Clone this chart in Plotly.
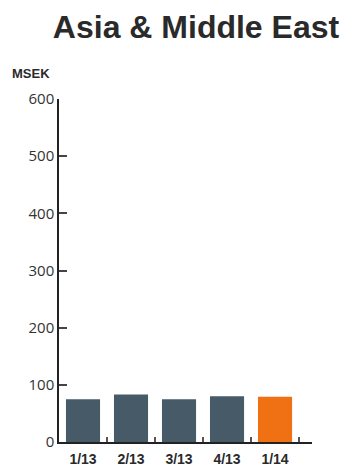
import plotly.graph_objects as go

categories = ["1/13", "2/13", "3/13", "4/13", "1/14"]
values = [75, 83, 75, 80, 79]
colors = ["#465a68", "#465a68", "#465a68", "#465a68", "#f07014"]
y_ticks = [0, 100, 200, 300, 400, 500, 600]

W, H = 345, 467
L, R, T, B = 59, 33, 99, 25
pw, ph = W - L - R, H - T - B

fig = go.Figure()
fig.add_trace(go.Bar(
    x=categories, y=values,
    marker=dict(color=colors, line=dict(width=0)),
    width=0.71,
    hoverinfo="skip",
))

fig.update_layout(
    width=W, height=H,
    margin=dict(l=L, r=R, t=T, b=B),
    paper_bgcolor="white", plot_bgcolor="white",
    showlegend=False,
    title=dict(text="<b>Asia & Middle East</b>", x=196/W, xanchor="center",
               y=1-27/H, yanchor="middle",
               font=dict(family="Liberation Sans, Arial", size=32, color="#2a2a2a")),
    annotations=[dict(text="<b>MSEK</b>", x=(10-L)/pw, y=(H-B-73)/ph, xref="paper", yref="paper",
                      xanchor="left", yanchor="middle", showarrow=False,
                      font=dict(family="Liberation Sans, Arial", size=13, color="#2a2a2a"))],
)
fig.update_yaxes(
    range=[0, 600], tickvals=y_ticks, showgrid=False, zeroline=False,
    showline=True, linecolor="#222", linewidth=1.5,
    ticks="inside", ticklen=8, tickcolor="#444", tickwidth=1.5,
    tickfont=dict(family="Open Sans, DejaVu Sans", size=15, color="#333"),
    automargin=False,
)
fig.update_xaxes(
    type="category", range=[-0.5, 4.77], showgrid=False, zeroline=False,
    showline=True, linecolor="#222", linewidth=1.5,
    tickson="boundaries", ticks="inside", ticklen=5, tickcolor="#555", tickwidth=1.5,
    ticklabelstandoff=3,
    tickfont=dict(family="Liberation Sans, Arial", size=14, color="#2a2a2a", weight="bold"),
    automargin=False,
)
fig.write_html("out.html")
